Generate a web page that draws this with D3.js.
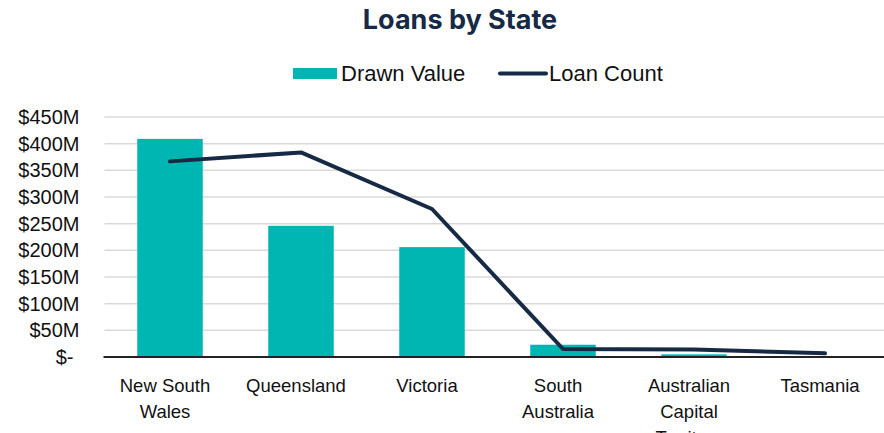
<!DOCTYPE html>
<html>
<head>
<meta charset="utf-8">
<script src="https://cdn.jsdelivr.net/npm/d3@7"></script>
<style>
  body { margin: 0; background: #fff; overflow: hidden; }
  svg { display: block; }
</style>
</head>
<body>
<div id="chart"></div>
<script>
// data
const states = ["New South Wales", "Queensland", "Victoria", "South Australia", "Australian Capital Territory", "Tasmania"];
const drawnValue = [409, 246, 206, 23, 5, 1];          // $M
const loanCount = [3668, 3836, 2775, 150, 142, 68];     // loans (hidden secondary axis)
const yTicks = [0, 50, 100, 150, 200, 250, 300, 350, 400, 450];

const width = 884, height = 433;
const margin = {top: 117, left: 104.5};
const innerW = 786;   // plot runs a little past the right edge, as in the reference
const innerH = 240;

const teal = "#00b6b2", navy = "#172a45";
const axisFont = "'Liberation Sans', Arial, sans-serif";

const svg = d3.select("#chart").append("svg")
    .attr("width", width)
    .attr("height", height);

// title
svg.append("text")
    .attr("x", 460)
    .attr("y", 29)
    .attr("text-anchor", "middle")
    .attr("font-family", "Inter, sans-serif")
    .attr("font-weight", 700)
    .attr("font-size", 27)
    .attr("fill", navy)
    .text("Loans by State");

// legend
const legend = svg.append("g").attr("font-family", axisFont).attr("font-size", 22).attr("fill", "#111");
legend.append("rect").attr("x", 293).attr("y", 68).attr("width", 44).attr("height", 11).attr("fill", teal);
legend.append("text").attr("x", 341).attr("y", 81).text("Drawn Value");
legend.append("line").attr("x1", 500).attr("x2", 546).attr("y1", 73.5).attr("y2", 73.5)
    .attr("stroke", navy).attr("stroke-width", 4).attr("stroke-linecap", "round");
legend.append("text").attr("x", 549).attr("y", 81).text("Loan Count");

const g = svg.append("g").attr("transform", `translate(${margin.left},${margin.top})`);

const x = d3.scaleBand().domain(states).range([0, innerW]).paddingInner(0).paddingOuter(0);
const y = d3.scaleLinear().domain([0, 450]).range([innerH, 0]);
const y2 = d3.scaleLinear().domain([0, 4500]).range([innerH, 0]);

// gridlines
g.append("g")
    .selectAll("line")
    .data(yTicks.filter(d => d > 0))
    .join("line")
    .attr("x1", 0)
    .attr("x2", innerW)
    .attr("y1", d => y(d))
    .attr("y2", d => y(d))
    .attr("stroke", "#d9d9d9")
    .attr("stroke-width", 1.5);

// y axis labels
const yAxis = g.append("g")
    .call(d3.axisLeft(y).tickValues(yTicks).tickSize(0).tickPadding(25)
        .tickFormat(d => d === 0 ? "$-" : `$${d}M`));
yAxis.select(".domain").remove();
yAxis.selectAll("text")
    .attr("font-family", axisFont)
    .attr("font-size", 20)
    .attr("fill", "#111")
    .attr("dx", d => d === 0 ? -6 : 0);

// bars
g.append("g")
    .selectAll("rect")
    .data(states)
    .join("rect")
    .attr("x", d => x(d) + x.bandwidth() * 0.25)
    .attr("width", x.bandwidth() * 0.5)
    .attr("y", (d, i) => y(drawnValue[i]))
    .attr("height", (d, i) => innerH - y(drawnValue[i]))
    .attr("fill", teal);

// baseline
g.append("line")
    .attr("x1", -1).attr("x2", innerW)
    .attr("y1", innerH).attr("y2", innerH)
    .attr("stroke", "#222").attr("stroke-width", 2);

// x axis labels
const xAxis = g.append("g")
    .attr("transform", `translate(0,${innerH})`)
    .call(d3.axisBottom(x).tickSize(0).tickPadding(0));
xAxis.select(".domain").remove();
xAxis.selectAll("text")
    .attr("font-family", axisFont)
    .attr("font-size", 18.5)
    .attr("fill", "#111")
    .attr("y", 0)
    .attr("dy", 0)
    .each(function(d) { wrap(d3.select(this), d, 108); });

function wrap(text, label, maxW) {
    const words = label.split(" ");
    text.text(null);
    let line = [];
    let lineNo = 0;
    let tspan = text.append("tspan").attr("x", -5).attr("y", 35);
    words.forEach(w => {
        line.push(w);
        tspan.text(line.join(" "));
        if (tspan.node().getComputedTextLength() > maxW && line.length > 1) {
            line.pop();
            tspan.text(line.join(" "));
            line = [w];
            lineNo++;
            tspan = text.append("tspan").attr("x", -5).attr("y", 35 + lineNo * 26).text(w);
        }
    });
}

// loan count line
const line = d3.line()
    .x((d, i) => x(states[i]) + x.bandwidth() / 2)
    .y(d => y2(d));

g.append("path")
    .datum(loanCount)
    .attr("d", line)
    .attr("fill", "none")
    .attr("stroke", navy)
    .attr("stroke-width", 4)
    .attr("stroke-linecap", "round")
    .attr("stroke-linejoin", "round");
</script>
</body>
</html>
